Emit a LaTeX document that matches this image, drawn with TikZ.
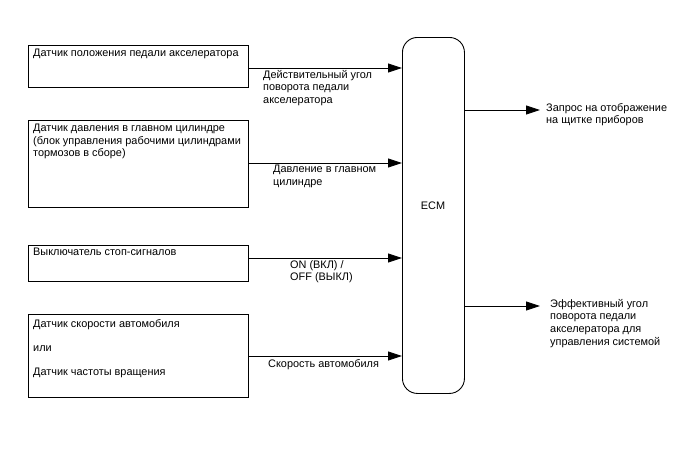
\documentclass[tikz,border=0pt]{standalone}
\usepackage{fontspec}
\setmainfont{Liberation Sans}
\usetikzlibrary{arrows.meta}
\begin{document}
\begin{tikzpicture}[x=1pt,y=-1pt,
  box/.style={draw,line width=0.9pt,anchor=north west,inner sep=0pt,minimum width=220pt},
  txt/.style={anchor=north west,align=left,inner sep=0pt,font=\fontsize{10.9}{12.6}\selectfont},
  lbl/.style={anchor=north west,align=left,inner sep=0pt,font=\fontsize{10.9}{12.6}\selectfont},
  arr/.style={line width=0.9pt,-{Triangle[length=14pt,width=9pt]}}]
\useasboundingbox (0,0) rectangle (688,463);
% sensor boxes
\node[box,minimum height=42pt] (s1) at (28,45) {};
\node[box,minimum height=87pt] (s2) at (28,120) {};
\node[box,minimum height=36pt] (s3) at (28,245) {};
\node[box,minimum height=83pt] (s4) at (28,314) {};
\node[txt] (t1) at (33,49) {Датчик положения педали акселератора};
\node[txt] (t2) at (33,124) {Датчик давления в главном цилиндре\\(блок управления рабочими цилиндрами\\тормозов в сборе)};
\node[txt] (t3) at (33,248) {Выключатель стоп-сигналов};
\node[txt] (t4) at (33,319) {Датчик скорости автомобиля\\[11.4pt]или\\[11.4pt]Датчик частоты вращения};
% ECM
\node[draw,line width=0.9pt,rounded corners=15pt,anchor=north west,minimum width=62pt,minimum height=356pt,inner sep=0pt] (ecm) at (402,37) {};
\node[font=\fontsize{10.9}{12.6}\selectfont] (ecmt) at (433,206) {ECM};
% input arrows
\draw[arr] (s1.east |- 0,68) -- (ecm.west |- 0,68);
\draw[arr] (s2.east |- 0,163) -- (ecm.west |- 0,163);
\draw[arr] (s3.east |- 0,258) -- (ecm.west |- 0,258);
\draw[arr] (s4.east |- 0,356) -- (ecm.west |- 0,356);
\node[lbl] (l1) at (263,70) {Действительный угол\\поворота педали\\акселератора};
\node[lbl] (l2) at (273,165) {Давление в главном\\цилиндре};
\node[lbl] (l3) at (290,260) {ON (ВКЛ) /\\OFF (ВЫКЛ)};
\node[lbl] (l4) at (268,359) {Скорость автомобиля};
% outputs
\coordinate (o1) at (540,110);
\coordinate (o2) at (540,306);
\draw[arr] (ecm.east |- o1) -- (o1);
\draw[arr] (ecm.east |- o2) -- (o2);
\node[lbl] (r1) at (546,103) {Запрос на отображение\\на щитке приборов};
\node[lbl] (r2) at (550,299) {Эффективный угол\\поворота педали\\акселератора для\\управления системой};
\end{tikzpicture}
\end{document}
